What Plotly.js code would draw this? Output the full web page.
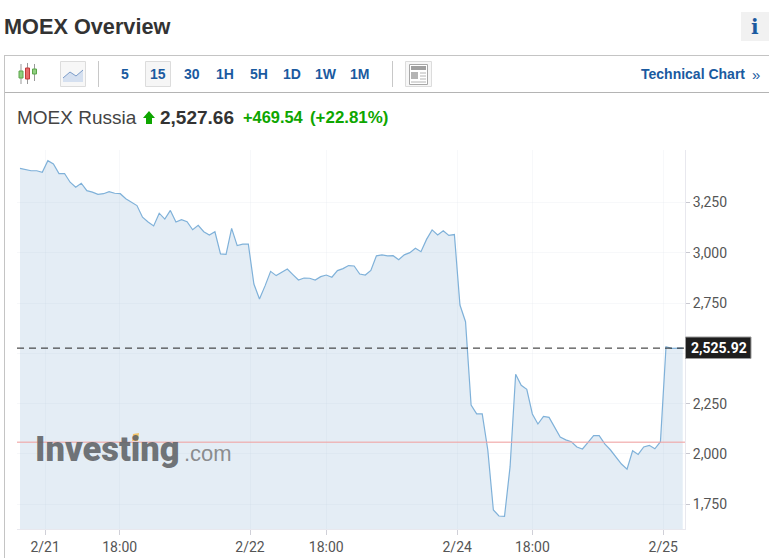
<!DOCTYPE html>
<html>
<head>
<meta charset="utf-8">
<script src="https://cdn.plot.ly/plotly-3.0.1.min.js"></script>
<style>html,body{margin:0;padding:0;background:#fff;overflow:hidden}#chart{width:769px;height:558px}</style>
</head>
<body>
<div id="chart"></div>
<script>
const closeValues = [3419,3412,3407,3407,3399,3457,3441,3393,3393,3350,3325,3345,3308,3301,3290,3293,3303,3295,3293,3268,
3250,3234,3176,3152,3133,3196,3167,3210,3152,3164,3154,3114,3136,3104,3088,3104,2994,2992,3121,3035,
3042,3042,2844,2770,2835,2907,2886,2902,2919,2891,2864,2874,2873,2864,2881,2889,2878,2911,2921,2936,
2934,2894,2889,2912,2984,2989,2984,2985,2965,2989,3000,3022,3005,3066,3113,3088,3109,3086,3090,2740,
2657,2243,2199,2199,2020,1722,1692,1690,1937,2396,2341,2321,2199,2149,2187,2182,2136,2084,2070,2061,
2035,2025,2058,2091,2091,2050,2021,1987,1950,1925,2016,1998,2035,2043,2026,2061,2533,2525,2525,2526];
const barIndex = closeValues.map((_, i) => i);
const xTickPositions = [4.5, 17.9, 41.3, 55, 78.5, 92, 115.5];
const xTickLabels = ['2/21','18:00','2/22','18:00','2/24','18:00','2/25'];
const yTickValues = [1750,2000,2250,2500,2750,3000,3250];
const yTickLabels = ['1,750','2,000','2,250','','2,750','3,000','3,250'];
const lastPrice = 2525.92;
const previousClose = 2058.12;
const periods = ['5','15','30','1H','5H','1D','1W','1M'];
const periodCenters = [125,158,192,225.5,259,292.5,326,360];

const W = 769, H = 558, L = 17, R = 685, T = 150, B = 529;
const fx = x => (x - L) / (R - L);
const fy = y => (B - y) / (B - T);
const BLUE = '#1a5aa0', GREEN = '#0ea600', TXT = '#333333';
const SANS = '"Liberation Sans", Arial, sans-serif';

function label(x, y, text, size, color, weight, opts) {
  return Object.assign({
    xref:'paper', yref:'paper', x:fx(x), y:fy(y), text:text, showarrow:false,
    xanchor:'left', yanchor:'middle', borderpad:0,
    font:{family:SANS, size:size, color:color, weight:weight || 400}
  }, opts || {});
}
function box(x0, y0, x1, y1, fill, line, w) {
  return {type:'rect', xref:'paper', yref:'paper', x0:fx(x0), x1:fx(x1), y0:fy(y0), y1:fy(y1),
    fillcolor:fill || 'rgba(0,0,0,0)', line:{color:line || 'rgba(0,0,0,0)', width:w === undefined ? 1 : w}, layer:'above'};
}
function seg(x0, y0, x1, y1, color, w) {
  return {type:'line', xref:'paper', yref:'paper', x0:fx(x0), x1:fx(x1), y0:fy(y0), y1:fy(y1),
    line:{color:color, width:w || 1}, layer:'above'};
}
function poly(points, fill, line, w) {
  return {type:'path', xref:'paper', yref:'paper',
    path: points.map((p, i) => (i ? 'L' : 'M') + fx(p[0]) + ',' + fy(p[1])).join(' ') + (fill ? ' Z' : ''),
    fillcolor:fill || 'rgba(0,0,0,0)', line:{color:line || 'rgba(0,0,0,0)', width:w === undefined ? 1 : w}, layer:'above'};
}

const shapes = [
  seg(4.5, 55.5, 769, 55.5, '#c4c4c4'),
  seg(4.5, 92.5, 769, 92.5, '#b4b4b4'),
  seg(4.5, 55, 4.5, 558, '#c4c4c4'),
  box(741, 12, 769, 41, '#f1f1f1', null, 0),
  seg(21, 64, 21, 84, '#999'), box(19, 71, 23, 78, '#8fcf7f', '#5da64c'),
  seg(27.5, 63, 27.5, 84, '#999'), box(25.5, 68, 29.5, 79, '#e86a6a', '#c03a3a'),
  seg(34.5, 64, 34.5, 81, '#999'), box(32.5, 69, 36.5, 74, '#8fcf7f', '#5da64c'),
  box(60.5, 61.5, 85.5, 86.5, '#f7f7f7', '#dcdcdc'),
  poly([[63,78],[70,72],[76,76],[83,70],[83,82],[63,82]], '#d5e0f0', null, 0),
  poly([[63,78],[70,72],[76,76],[83,70]], null, '#7b9cc9', 1),
  seg(98.5, 61, 98.5, 87, '#c8c8c8'),
  seg(392.5, 61, 392.5, 87, '#c8c8c8'),
  box(145.5, 61.5, 170.5, 86.5, '#f6f6f6', '#dcdcdc'),
  box(405.5, 61.5, 431.5, 86.5, '#f7f7f7', '#dcdcdc'),
  box(409.5, 64.5, 427.5, 84.5, '#ffffff', '#a8a8a8'),
  box(411, 66, 426, 70, '#a0a0a0', null, 0),
  box(411, 72, 418, 79, '#b4b4b4', null, 0),
  seg(420, 73, 426, 73, '#b4b4b4'), seg(420, 76, 426, 76, '#b4b4b4'), seg(420, 79, 426, 79, '#b4b4b4'),
  seg(411, 82, 426, 82, '#b4b4b4'),
  poly([[143,118],[149,111],[155,118],[152,118],[152,124],[146,124],[146,118]], '#0ea600', null, 0),
  poly([[133,434],[139,433],[138,441],[132,441]], '#f3c469', null, 0),
  {type:'line', xref:'paper', yref:'y', x0:0, x1:1, y0:previousClose, y1:previousClose,
   line:{color:'rgba(240,165,165,0.75)', width:1.5}, layer:'above'},
  {type:'line', xref:'paper', yref:'y', x0:0, x1:1, y0:lastPrice, y1:lastPrice,
   line:{color:'#222222', width:1, dash:'7px,5px'}, layer:'above'},
  box(685.5, 337, 751, 358.5, '#1e1e1e', '#9a9a9a', 1)
];

const annotations = [
  label(3, 26, 'MOEX Overview', 21.7, TXT, 700),
  label(755, 27, 'i', 20, BLUE, 700, {xanchor:'center', font:{family:'"DejaVu Serif", serif', size:20, color:BLUE, weight:700}}),
  ...periods.map((p, i) => label(periodCenters[i] - 0.5, 74, p, 14, BLUE, 700, {xanchor:'center'})),
  label(745.5, 74, 'Technical Chart', 14, BLUE, 700, {xanchor:'right'}),
  label(751, 74, '»', 15, BLUE),
  label(16, 117, 'MOEX Russia', 19, '#444444'),
  label(159, 117, '2,527.66', 19, TXT, 700),
  label(242, 117, '+469.54', 16.4, GREEN, 700),
  label(309, 117, '(+22.81%)', 16.9, GREEN, 700),
  label(34, 449, 'Investing', 34.5, 'rgba(95,98,102,0.88)', 900, {font:{family:'Roboto, sans-serif', size:34.5, color:'rgba(95,98,102,0.88)', weight:900}}),
  label(183, 453, '.com', 22, 'rgba(115,115,115,0.8)'),
  label(719.5, 347.5, lastPrice.toLocaleString('en-US'), 14, '#ffffff', 700, {xanchor:'center', font:{family:'Roboto, sans-serif', size:14, color:'#ffffff', weight:700}})
];

const trace = {
  type:'scatter', mode:'lines', x:barIndex, y:closeValues,
  line:{color:'#7fb1d9', width:1.2, shape:'linear'},
  fill:'tozeroy', fillcolor:'rgba(146,184,216,0.25)', hoverinfo:'skip'
};

const layout = {
  width:W, height:H, showlegend:false,
  paper_bgcolor:'#ffffff', plot_bgcolor:'#ffffff',
  margin:{l:L, r:W - R, t:T, b:H - B, pad:0},
  xaxis:{
    range:[-0.54, 119.41], tickmode:'array', tickvals:xTickPositions, ticktext:xTickLabels,
    showgrid:true, gridcolor:'rgba(228,232,240,0.3)', gridwidth:1, zeroline:false,
    showline:true, linecolor:'#e8e8ee', linewidth:1,
    ticks:'outside', ticklen:5, tickcolor:'#d0d0d8',
    tickfont:{family:'Roboto, sans-serif', size:14, color:'#555555'}
  },
  yaxis:{
    side:'right', range:[1627.4, 3510], tickmode:'array', tickvals:yTickValues, ticktext:yTickLabels,
    showgrid:true, gridcolor:'rgba(228,232,240,0.3)', gridwidth:1, zeroline:false,
    showline:true, linecolor:'#e8e8ee', linewidth:1,
    ticks:'outside', ticklen:4, tickcolor:'#c8c8d0',
    tickfont:{family:'Roboto, sans-serif', size:14, color:'#555555'}
  },
  shapes:shapes, annotations:annotations
};

Plotly.newPlot('chart', [trace], layout, {displayModeBar:false, staticPlot:true});
</script>
</body>
</html>
